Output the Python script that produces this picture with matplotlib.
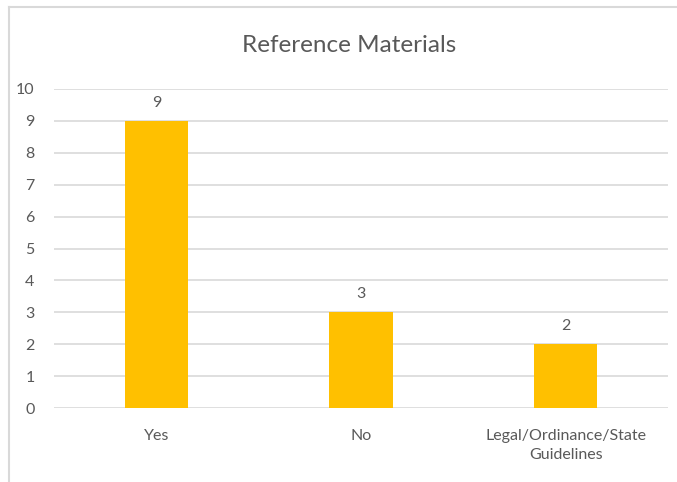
import matplotlib
matplotlib.use("Agg")
import matplotlib.pyplot as plt
from matplotlib.lines import Line2D

categories = ["Yes", "No", "Legal/Ordinance/State\nGuidelines"]
values = [9, 3, 2]
yticks = list(range(0, 11))
title = "Reference Materials"

W, H = 677, 482
fig = plt.figure(figsize=(W / 100, H / 100), dpi=100)
plt.rcParams['font.family'] = ['Lato', 'DejaVu Sans']
txt = "#595959"

# axes: x 54..668, y 89..408 (pixels from top)
ax = fig.add_axes([54 / W, 1 - 408 / H, (668 - 54) / W, (408 - 89) / H])
x = range(len(categories))
ax.bar(x, values, width=0.31, color="#FFC000", zorder=3)
ax.set_xlim(-0.5, len(categories) - 0.5)
ax.set_ylim(0, 10)
ax.set_yticks(yticks)
ax.set_yticklabels([str(t) for t in yticks], color=txt, fontsize=11.5)
ax.set_xticks(list(x))
ax.set_xticklabels(categories, color=txt, fontsize=11.5, linespacing=1.45)
ax.tick_params(axis='both', length=0)
ax.tick_params(axis='y', pad=14)
ax.tick_params(axis='x', pad=15)
ax.grid(axis='y', color="#d9d9d9", linewidth=1.2, zorder=0)
for s in ax.spines.values():
    s.set_visible(False)
for i, v in enumerate(values):
    ax.annotate(str(v), (i, v), xytext=(0, 8), textcoords='offset points',
                ha='center', va='bottom', color=txt, fontsize=11.5)

fig.text(349 / W, 1 - 45 / H, title, ha='center', va='center', fontsize=17.5, color=txt)

# chart border (left and top)
fig.add_artist(Line2D([9 / W, 9 / W], [0, 1 - 7 / H], transform=fig.transFigure, color="#d9d9d9", linewidth=1.5))
fig.add_artist(Line2D([9 / W, 1], [1 - 7 / H, 1 - 7 / H], transform=fig.transFigure, color="#d9d9d9", linewidth=1.5))

fig.savefig("out.png", dpi=100)
